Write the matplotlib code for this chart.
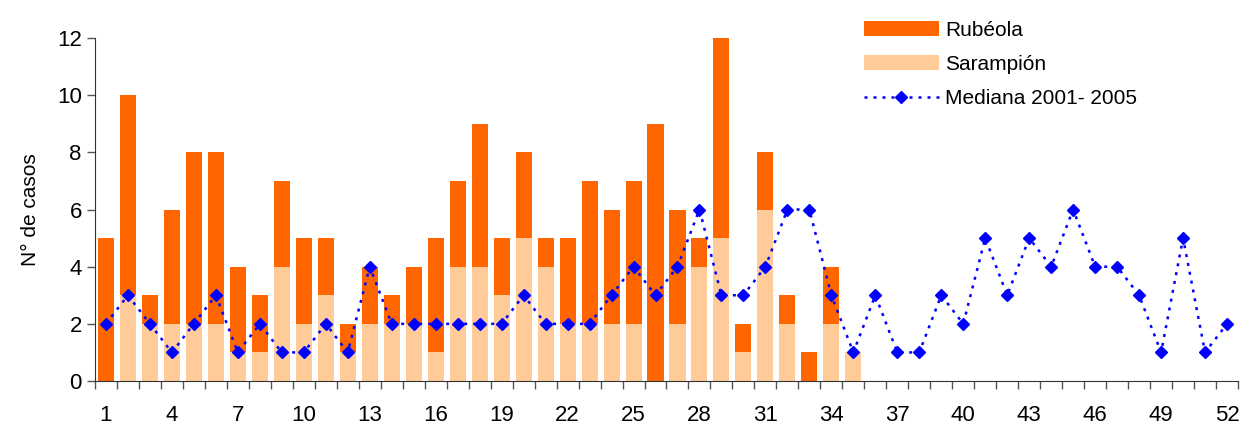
import numpy as np
import matplotlib.pyplot as plt
from matplotlib.patches import Patch
from matplotlib.lines import Line2D

plt.rcParams.update({
    "font.family": ["Liberation Sans", "DejaVu Sans"],
    "axes.spines.top": False,
    "axes.spines.right": False,
})

weeks = np.arange(1, 53)

# cases per week (weeks 1-35 reported)
sarampion = [0, 3, 2, 2, 2, 2, 1, 1, 4, 2, 3, 1, 2, 2, 2, 1, 4, 4, 3, 5,
             4, 2, 2, 2, 2, 0, 2, 4, 5, 1, 6, 2, 0, 2, 1]
total = [5, 10, 3, 6, 8, 8, 4, 3, 7, 5, 5, 2, 4, 3, 4, 5, 7, 9, 5, 8,
         5, 5, 7, 6, 7, 9, 6, 5, 12, 2, 8, 3, 1, 4, 1]
rubeola = [t - s for t, s in zip(total, sarampion)]

mediana = [2, 3, 2, 1, 2, 3, 1, 2, 1, 1, 2, 1, 4, 2, 2, 2, 2, 2, 2, 3,
           2, 2, 2, 3, 4, 3, 4, 6, 3, 3, 4, 6, 6, 3, 1, 3, 1, 1, 3, 2,
           5, 3, 5, 4, 6, 4, 4, 3, 1, 5, 1, 2]

C_RUB = "#FF6600"
C_SAR = "#FFCC99"
C_MED = "#0000FF"

fig = plt.figure(figsize=(12.43, 4.26), dpi=100)
ax = fig.add_axes([0.0764, 0.1056, 0.9196, 0.8052])

xb = weeks[:len(total)]
ax.bar(xb, sarampion, width=0.73, color=C_SAR, zorder=2)
ax.bar(xb, rubeola, width=0.73, bottom=sarampion, color=C_RUB, zorder=2)
ax.plot(weeks, mediana, color=C_MED, linestyle=(0, (1.2, 2.4)), linewidth=1.8,
        marker="D", markersize=6.5, zorder=3)

ax.set_xlim(0.5, 52.5)
ax.set_ylim(0, 12)
ax.set_yticks(range(0, 13, 2))
ax.set_xticks(np.arange(1, 53, 3))
ax.set_xticks(np.arange(0.5, 53, 1), minor=True)
ax.tick_params(axis="x", which="major", length=0, labelsize=16, pad=17)
ax.tick_params(axis="x", which="minor", length=6, width=1, color="#555555")
ax.tick_params(axis="y", length=6, width=1, labelsize=16, color="#555555")
ax.spines["left"].set_color("#333333")
ax.spines["bottom"].set_color("#333333")
ax.set_ylabel("N° de casos", fontsize=15, labelpad=12)

handles = [
    Patch(facecolor=C_RUB, label="Rubéola"),
    Patch(facecolor=C_SAR, label="Sarampión"),
    Line2D([], [], color=C_MED, linestyle=(0, (1.2, 2.4)), linewidth=1.8,
           marker="D", markersize=6.5, label="Mediana 2001- 2005"),
]
fig.legend(handles=handles, loc="upper left", bbox_to_anchor=(0.680, 0.995),
           frameon=False, fontsize=15, handlelength=3.6, handleheight=0.7,
           handletextpad=0.3, labelspacing=0.72)

fig.savefig("out.png", dpi=100)
